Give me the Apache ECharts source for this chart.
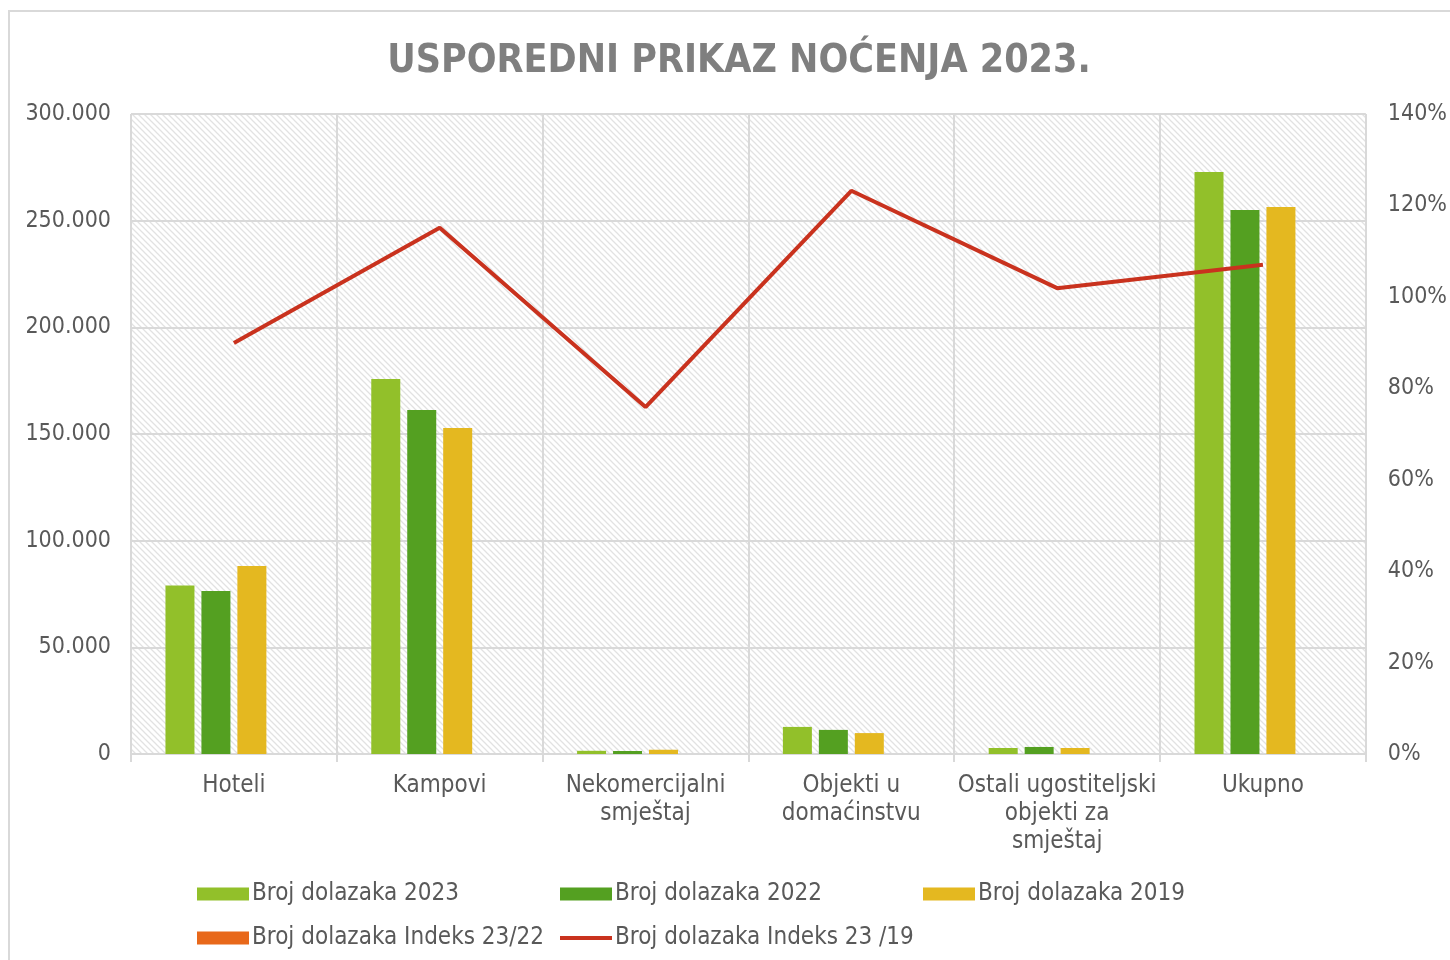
<!DOCTYPE html>
<html><head><meta charset="utf-8">
<script src="https://cdn.jsdelivr.net/npm/echarts@6/dist/echarts.min.js"></script>
<style>html,body{margin:0;padding:0;background:#fff}#c{width:1450px;height:960px}</style>
</head><body><div id="c"></div>
<script>
const categories = ['Hoteli', 'Kampovi', 'Nekomercijalni\nsmještaj', 'Objekti u\ndomaćinstvu', 'Ostali ugostiteljski\nobjekti za\nsmještaj', 'Ukupno'];
const dolasci2023 = [79000, 175800, 1500, 12700, 2800, 272800];
const dolasci2022 = [76400, 161300, 1400, 11300, 3300, 255000];
const dolasci2019 = [88100, 152800, 2000, 9800, 2800, 256400];
const indeks2322 = [null, null, null, null, null, null];
const indeks2319 = [0.899, 1.151, 0.759, 1.232, 1.019, 1.070];
const leftTicks = { min: 0, max: 300000, interval: 50000 };
const rightTicks = { min: 0, max: 1.4, interval: 0.2 };

const FONT = 'DejaVu Sans Condensed';
const TXT = '#595959';

const pc = document.createElement('canvas');
pc.width = 6; pc.height = 6;
const g = pc.getContext('2d');
g.fillStyle = '#ffffff'; g.fillRect(0, 0, 6, 6);
g.strokeStyle = '#e2e2e2'; g.lineWidth = 1.3;
g.beginPath();
g.moveTo(-1, -1); g.lineTo(7, 7);
g.moveTo(-1, 5); g.lineTo(1, 7);
g.moveTo(5, -1); g.lineTo(7, 1);
g.stroke();

const chart = echarts.init(document.getElementById('c'));
const legendBase = {
  itemWidth: 52, itemHeight: 13, itemGap: 0, padding: 0, icon: 'rect',
  textStyle: { fontFamily: FONT, fontSize: 24, color: TXT, padding: [0, 0, 0, -2] }
};
chart.setOption({
  animation: false,
  title: {
    text: 'USPOREDNI PRIKAZ NOĆENJA 2023.', left: 734, top: 37, textAlign: 'center',
    textStyle: { fontFamily: FONT, fontWeight: 'bold', fontSize: 39, color: '#7f7f7f' }
  },
  graphic: [{
    type: 'rect', shape: { x: 9, y: 11, width: 1460, height: 970 },
    style: { fill: null, stroke: '#d9d9d9', lineWidth: 2 }, silent: true, z: -1
  }],
  legend: [
    Object.assign({}, legendBase, { left: 197, top: 882, data: ['Broj dolazaka 2023'] }),
    Object.assign({}, legendBase, { left: 560, top: 882, data: ['Broj dolazaka 2022'] }),
    Object.assign({}, legendBase, { left: 923, top: 882, data: ['Broj dolazaka 2019'] }),
    Object.assign({}, legendBase, { left: 197, top: 926, data: ['Broj dolazaka Indeks 23/22'] }),
    Object.assign({}, legendBase, { left: 560, top: 926, itemHeight: 4, data: ['Broj dolazaka Indeks 23 /19'] })
  ],
  grid: {
    left: 131, right: 83, top: 114, bottom: 206, show: true,
    backgroundColor: { image: pc, repeat: 'repeat' }, borderWidth: 0
  },
  xAxis: {
    type: 'category', data: categories, boundaryGap: true,
    axisLine: { lineStyle: { color: '#d9d9d9', width: 2 } },
    axisTick: { show: true, length: 8, lineStyle: { color: '#d9d9d9', width: 2 } },
    splitLine: { show: true, lineStyle: { color: '#d9d9d9', width: 2 } },
    axisLabel: { fontFamily: FONT, fontSize: 24, color: TXT, lineHeight: 28, margin: 18, interval: 0 }
  },
  yAxis: [{
    type: 'value', min: leftTicks.min, max: leftTicks.max, interval: leftTicks.interval,
    axisLine: { show: false }, axisTick: { show: false },
    splitLine: { lineStyle: { color: '#d9d9d9', width: 2 } },
    axisLabel: {
      fontFamily: FONT, fontSize: 23, color: TXT, margin: 20,
      formatter: v => v.toString().replace(/\B(?=(\d{3})+(?!\d))/g, '.')
    }
  }, {
    type: 'value', min: rightTicks.min, max: rightTicks.max, interval: rightTicks.interval,
    axisLine: { show: false }, axisTick: { show: false }, splitLine: { show: false },
    axisLabel: { fontFamily: FONT, fontSize: 23, color: TXT, margin: 22, formatter: v => Math.round(v * 100) + '%' }
  }],
  series: [
    { name: 'Broj dolazaka 2023', type: 'bar', data: dolasci2023, itemStyle: { color: '#92c02a' }, barWidth: 29, barGap: '24%', barCategoryGap: '33%' },
    { name: 'Broj dolazaka 2022', type: 'bar', data: dolasci2022, itemStyle: { color: '#54a021' }, barWidth: 29 },
    { name: 'Broj dolazaka 2019', type: 'bar', data: dolasci2019, itemStyle: { color: '#e4b820' }, barWidth: 29 },
    { name: 'Broj dolazaka Indeks 23/22', type: 'bar', data: indeks2322, itemStyle: { color: '#e8681a' }, barWidth: 29 },
    { name: 'Broj dolazaka Indeks 23 /19', type: 'line', yAxisIndex: 1, data: indeks2319, symbol: 'none',
      lineStyle: { color: '#c9321e', width: 4 }, itemStyle: { color: '#c9321e' } }
  ]
});
</script></body></html>
